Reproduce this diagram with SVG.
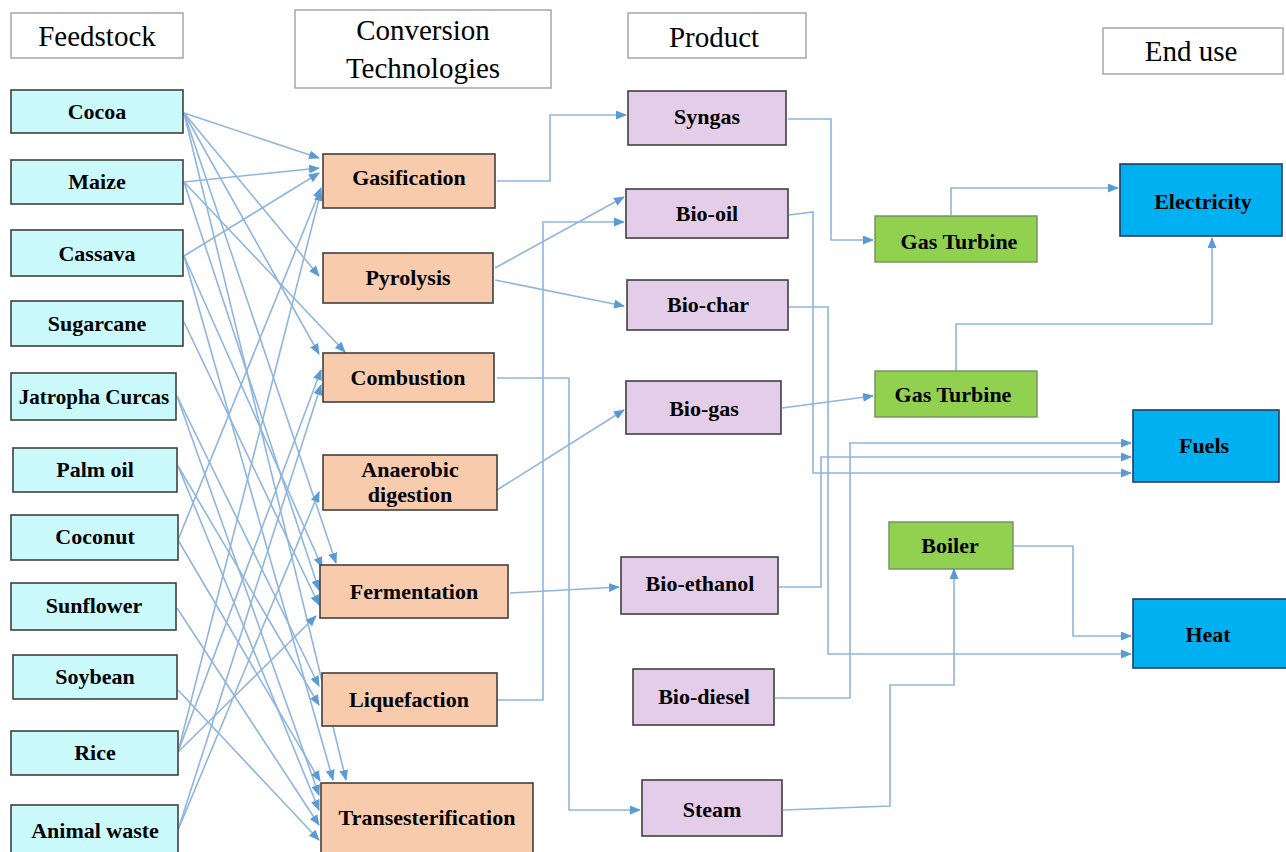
<svg xmlns="http://www.w3.org/2000/svg" width="1286" height="852" viewBox="0 0 1286 852">
<style>
text{font-family:"Liberation Serif","Times New Roman",serif;fill:#000;text-anchor:middle}
.h{font-size:29px}
.t{font-size:22px;font-weight:bold}
.hd{fill:#fff;stroke:#a6a6a6;stroke-width:1.5}
.fs{fill:#cbfafd;stroke:#404040;stroke-width:1.6}
.cv{fill:#f8cbad;stroke:#404040;stroke-width:1.6}
.pr{fill:#e4cde9;stroke:#404040;stroke-width:1.6}
.gr{fill:#92d050;stroke:#6f8f60;stroke-width:1.4}
.bl{fill:#00b0f0;stroke:#1f3f5f;stroke-width:1.6}
.c{fill:none;stroke:#8fb5de;stroke-width:1.6;marker-end:url(#ah)}
.n{fill:none;stroke:#8fb5de;stroke-width:1.6}
</style>
<defs>
<marker id="ah" markerUnits="userSpaceOnUse" markerWidth="11" markerHeight="9" refX="10" refY="4.5" orient="auto">
<path d="M0,0 L11,4.5 L0,9 z" fill="#5b9bd5"/>
</marker>
</defs>
<rect width="1286" height="852" fill="#fff"/>

<g id="headers">
<g id="h-feedstock"><rect class="hd" x="11" y="13" width="172" height="45"/><text class="h" x="97" y="46">Feedstock</text></g>
<g id="h-conversion"><rect class="hd" x="295" y="10" width="256" height="78"/><text class="h" x="423" y="40">Conversion</text><text class="h" x="423" y="78">Technologies</text></g>
<g id="h-product"><rect class="hd" x="628" y="13" width="178" height="45"/><text class="h" x="714" y="47">Product</text></g>
<g id="h-enduse"><rect class="hd" x="1103" y="28" width="180" height="46"/><text class="h" x="1191" y="61">End use</text></g>
</g>

<g id="connectors">
<!-- feedstock to conversion -->
<path class="c" d="M184,113 L319,158"/>
<path class="c" d="M184,113 L319,276"/>
<path class="c" d="M184,113 L319,354"/>
<path class="c" d="M184,113 L336,563"/>
<path class="c" d="M184,113 L346,780"/>
<path class="c" d="M184,182 L319,168"/>
<path class="c" d="M184,182 L345,352"/>
<path class="c" d="M184,182 L319,590"/>
<path class="c" d="M184,256 L319,173"/>
<path class="c" d="M184,256 L322,567"/>
<path class="c" d="M184,256 L333,780"/>
<path class="c" d="M184,322 L319,605"/>
<path class="c" d="M177,396 L319,686"/>
<path class="c" d="M177,396 L319,795"/>
<path class="c" d="M178,466 L319,705"/>
<path class="c" d="M178,466 L319,810"/>
<path class="c" d="M178,540 L321,188"/>
<path class="c" d="M178,540 L320,781"/>
<path class="c" d="M177,608 L319,825"/>
<path class="c" d="M178,690 L319,840"/>
<path class="c" d="M178,752 L321,191"/>
<path class="c" d="M178,752 L321,370"/>
<path class="c" d="M178,752 L316,616"/>
<path class="c" d="M178,830 L321,385"/>
<path class="c" d="M178,830 L319,492"/>
<!-- conversion to product -->
<path class="c" d="M497,181 L550,181 L550,115 L626,115"/>
<path class="c" d="M495,268 L624,197"/>
<path class="c" d="M495,280 L624,306"/>
<path class="c" d="M497,700 L543,700 L543,222 L624,222"/>
<path class="c" d="M497,378 L569,378 L569,810 L640,810"/>
<path class="c" d="M497,490 L624,410"/>
<path class="c" d="M510,593 L619,587"/>
<!-- product to end use -->
<path class="c" d="M788,119 L831,119 L831,240 L873,240"/>
<path class="c" d="M789,215 L813,212 L813,473 L1131,473"/>
<path class="c" d="M788,307 L828,307 L828,654 L1131,654"/>
<path class="c" d="M779,587 L821,587 L821,457 L1131,457"/>
<path class="c" d="M775,698 L850,698 L850,443 L1131,443"/>
<path class="c" d="M782,408 L873,396"/>
<path class="c" d="M783,810 L890,806 L890,685 L954,685 L954,569"/>
<path class="c" d="M1014,546 L1073,546 L1073,636 L1131,636"/>
<path class="c" d="M951,215 L951,188 L1118,188"/>
<path class="c" d="M956,371 L956,324 L1212,324 L1212,238"/>
</g>

<g id="feedstock">
<g id="n-cocoa"><rect class="fs" x="11" y="90" width="172" height="43"/><text class="t" x="97" y="119">Cocoa</text></g>
<g id="n-maize"><rect class="fs" x="11" y="160" width="172" height="44"/><text class="t" x="97" y="189">Maize</text></g>
<g id="n-cassava"><rect class="fs" x="11" y="230" width="172" height="46"/><text class="t" x="97" y="261">Cassava</text></g>
<g id="n-sugarcane"><rect class="fs" x="11" y="301" width="172" height="45"/><text class="t" x="97" y="331">Sugarcane</text></g>
<g id="n-jatropha"><rect class="fs" x="11" y="373" width="165" height="47"/><text class="t" x="94" y="404" style="font-size:21px">Jatropha Curcas</text></g>
<g id="n-palmoil"><rect class="fs" x="13" y="448" width="164" height="44"/><text class="t" x="95" y="477">Palm oil</text></g>
<g id="n-coconut"><rect class="fs" x="11" y="515" width="167" height="45"/><text class="t" x="95" y="544">Coconut</text></g>
<g id="n-sunflower"><rect class="fs" x="11" y="583" width="165" height="47"/><text class="t" x="94" y="613">Sunflower</text></g>
<g id="n-soybean"><rect class="fs" x="13" y="655" width="164" height="44"/><text class="t" x="95" y="684">Soybean</text></g>
<g id="n-rice"><rect class="fs" x="11" y="731" width="167" height="44"/><text class="t" x="95" y="760">Rice</text></g>
<g id="n-animalwaste"><rect class="fs" x="11" y="805" width="167" height="49"/><text class="t" x="95" y="838">Animal waste</text></g>
</g>

<g id="conversion">
<g id="n-gasification"><rect class="cv" x="323" y="154" width="172" height="54"/><text class="t" x="409" y="185">Gasification</text></g>
<g id="n-pyrolysis"><rect class="cv" x="323" y="253" width="170" height="50"/><text class="t" x="408" y="285">Pyrolysis</text></g>
<g id="n-combustion"><rect class="cv" x="323" y="353" width="171" height="49"/><text class="t" x="408" y="385">Combustion</text></g>
<g id="n-anaerobic"><rect class="cv" x="323" y="455" width="174" height="55"/><text class="t" x="410" y="477">Anaerobic</text><text class="t" x="410" y="502">digestion</text></g>
<g id="n-fermentation"><rect class="cv" x="320" y="565" width="188" height="53"/><text class="t" x="414" y="599">Fermentation</text></g>
<g id="n-liquefaction"><rect class="cv" x="322" y="673" width="175" height="53"/><text class="t" x="409" y="707">Liquefaction</text></g>
<g id="n-transesterification"><rect class="cv" x="321" y="783" width="212" height="71"/><text class="t" x="427" y="825">Transesterification</text></g>
</g>

<g id="product">
<g id="n-syngas"><rect class="pr" x="628" y="91" width="158" height="54"/><text class="t" x="707" y="124">Syngas</text></g>
<g id="n-biooil"><rect class="pr" x="626" y="189" width="162" height="49"/><text class="t" x="707" y="221">Bio-oil</text></g>
<g id="n-biochar"><rect class="pr" x="627" y="280" width="161" height="50"/><text class="t" x="708" y="312">Bio-char</text></g>
<g id="n-biogas"><rect class="pr" x="626" y="381" width="155" height="53"/><text class="t" x="704" y="416">Bio-gas</text></g>
<g id="n-bioethanol"><rect class="pr" x="621" y="557" width="157" height="57"/><text class="t" x="700" y="591">Bio-ethanol</text></g>
<g id="n-biodiesel"><rect class="pr" x="633" y="669" width="141" height="56"/><text class="t" x="704" y="704">Bio-diesel</text></g>
<g id="n-steam"><rect class="pr" x="642" y="780" width="140" height="56"/><text class="t" x="712" y="817">Steam</text></g>
</g>

<g id="enduse">
<g id="n-gasturbine1"><rect class="gr" x="875" y="216" width="162" height="46"/><text class="t" x="959" y="249">Gas Turbine</text></g>
<g id="n-gasturbine2"><rect class="gr" x="875" y="371" width="162" height="46"/><text class="t" x="953" y="402">Gas Turbine</text></g>
<g id="n-boiler"><rect class="gr" x="889" y="522" width="124" height="47"/><text class="t" x="950" y="553">Boiler</text></g>
<g id="n-electricity"><rect class="bl" x="1120" y="164" width="162" height="72"/><text class="t" x="1203" y="209">Electricity</text></g>
<g id="n-fuels"><rect class="bl" x="1133" y="410" width="146" height="72"/><text class="t" x="1204" y="453">Fuels</text></g>
<g id="n-heat"><rect class="bl" x="1133" y="599" width="155" height="69"/><text class="t" x="1208" y="642">Heat</text></g>
</g>
</svg>
